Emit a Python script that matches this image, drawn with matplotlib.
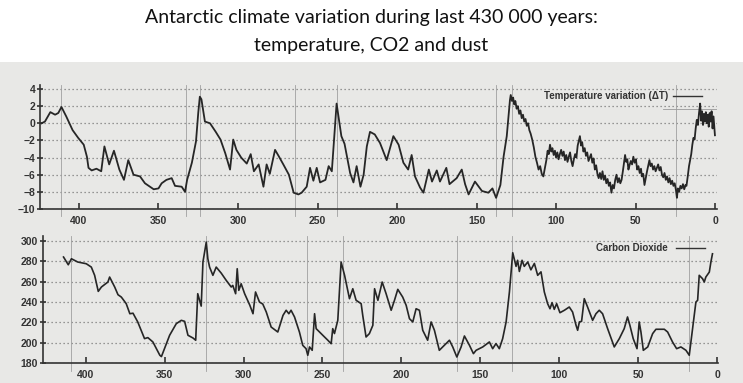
import matplotlib
matplotlib.use("Agg")
import matplotlib.pyplot as plt
from matplotlib.patches import Rectangle

# --- data (age in thousands of years before present) ---
temp_age = [
    423.5, 421.4, 418, 415, 413, 411, 408, 404, 400.5, 397, 395, 394, 392, 389,
    386, 384, 381, 378, 374.6, 371.7, 369, 365.7, 361.6, 358.5, 353, 350, 348,
    345, 341.7, 339.6, 335.4, 333.3, 332, 329, 326.4, 325, 324, 323, 320.8,
    317.6, 314, 311, 308, 305, 303, 301, 298, 294.5, 292, 290, 287, 284, 282,
    280, 276.7, 274.5, 271.5, 268, 265, 262, 260, 256.8, 254.7, 252.6, 250.5,
    248.4, 245, 243, 241, 238, 235, 233, 229.5, 227.4, 225.4, 223, 221, 219,
    217, 214, 210.7, 206.5, 202.3, 199, 196, 193, 190.8, 188.7, 185.5, 183.4,
    180, 178, 175, 173, 169, 167, 162.5, 159.3, 157.2, 155, 151, 146.6, 142.6,
    140, 137.7, 135, 133, 131, 129,
    128.5, 127.7, 127, 126.3, 125.6, 124.8, 124, 123.2, 122.4, 121.6, 120.8,
    120, 119.2, 118.4, 117.6, 116.8, 116, 115, 114, 113, 112, 111, 110, 109,
    108, 107, 106, 105.3, 104.6, 103.8, 103, 102.3, 101.5, 100.7, 100, 99.2,
    98.4, 97.6, 96.8, 96, 95.2, 94.4, 93.6, 92.8, 92, 91.2, 90.4, 89.6, 88.8,
    88, 87.2, 86.4, 85.6, 85, 84.3, 83.6, 82.8, 82, 81.2, 80.4, 79.6, 78.8,
    78, 77.2, 76.4, 75.6, 74.8, 74, 73.2, 72.4, 71.6, 70.8, 70, 69.2, 68.4,
    67.6, 66.8, 66, 65.2, 64.4, 63.6, 62.8, 62, 61.2, 60.4, 59.6, 58.8, 58,
    57.3, 56.6, 55.9, 55.2, 54.5, 53.8, 53, 52.2, 51.4, 50.6, 49.8, 49, 48.2,
    47.4, 46.6, 46, 45.2, 44.4, 43.6, 42.8, 42, 41.3, 40.6, 39.8, 39, 38.2,
    37.4, 36.6, 35.8, 35, 34.2, 33.4, 32.6, 31.8, 31, 30.2, 29.4, 28.6, 27.8,
    27, 26.2, 25.4, 24.6, 24, 23.4, 22.6, 21.8, 21, 20.2, 19.4, 18.6, 18,
    17.2, 16.4, 15.7, 15, 14.3, 13.6, 12.9, 12.2, 11.5, 10.8, 10.1, 9.4, 8.8,
    8.2, 7.6, 7, 6.4, 5.8, 5.2, 4.6, 4, 3.4, 2.8, 2.2, 1.6, 1, 0.5, 0.1,
]
temp_val = [
    0.0, 0.2, 1.3, 1.0, 1.2, 1.9, 0.8, -0.8, -1.7, -2.5, -3.9, -5.2, -5.5, -5.3,
    -5.6, -2.7, -4.8, -3.2, -5.4, -6.6, -4.3, -6.0, -6.2, -7.0, -7.7, -7.6, -7.0,
    -6.6, -6.4, -7.3, -7.4, -8.0, -6.6, -4.6, -2.1, 1.2, 3.1, 2.8, 0.2,
    0.0, -1.0, -1.9, -3.5, -5.4, -1.9, -3.1, -4.0, -4.7, -3.6, -5.6, -4.8, -7.4, -4.8,
    -5.9, -3.1, -3.8, -4.8, -6.0, -8.1, -8.3, -8.1, -7.4, -5.2, -6.7, -5.2,
    -6.9, -6.6, -5.0, -5.6, 2.3, -1.5, -2.4, -5.8, -6.9, -5.0, -7.4, -6.0, -2.7,
    -1.0, -1.3, -2.3, -4.3, -1.5, -2.5, -4.6, -5.4, -3.7, -6.2, -7.5, -8.1,
    -5.4, -6.8, -5.5, -6.8, -5.2, -7.1, -6.4, -5.4, -7.1, -8.3, -6.8, -7.9, -8.1,
    -7.6, -8.7, -7.2, -3.9, -1.5, 2.7,
    3.3, 2.6, 3.0, 2.2, 2.6, 1.7, 2.0, 1.1, 1.5, 0.6, 1.0,
    0.2, 0.5, -0.3, 0.0, -0.8, -1.2, -1.9, -2.8, -3.9, -4.6, -5.4, -5.0, -5.9,
    -6.2, -5.2, -4.2, -3.2, -3.6, -2.5, -3.3, -2.9, -3.7, -3.2, -4.0, -3.4,
    -4.2, -3.6, -3.1, -3.8, -3.3, -4.3, -3.7, -4.5, -3.9, -3.4, -4.4, -5.0, -4.2,
    -3.6, -4.0, -2.6, -2.0, -1.5, -2.6, -2.2, -3.3, -2.9, -3.8, -3.4, -4.4, -4.0,
    -3.6, -4.6, -4.1, -5.4, -4.9, -5.9, -6.4, -5.8, -6.5, -5.6, -6.6, -6.1, -7.0,
    -6.5, -7.3, -6.9, -8.1, -7.2, -7.6, -6.6, -6.0, -6.9, -6.4, -7.0, -6.6, -5.6,
    -4.6, -3.7, -4.5, -4.2, -5.4, -4.9, -4.4, -4.8, -3.9, -4.6, -4.2, -5.4, -5.0,
    -5.8, -5.3, -6.2, -5.9, -7.2, -6.4, -5.6, -4.9, -4.3, -5.0, -4.7, -5.4, -5.0,
    -5.6, -5.2, -4.8, -5.5, -5.1, -6.0, -6.3, -5.8, -6.6, -6.2, -6.9, -6.4, -7.1,
    -6.7, -7.3, -7.0, -7.8, -8.7, -7.6, -8.0, -7.3, -7.6, -7.1, -7.7, -7.2, -7.3,
    -6.2, -5.0, -4.3, -3.6, -2.5, -1.7, -1.9, -0.6, 0.4, -0.2, 1.2, 2.3, 0.3,
    1.4, -0.2, 1.1, 0.2, 1.3, 0.0, 1.0, -0.4, 1.2, 0.2, 1.4, -0.6, 0.8, -0.5, -1.4,
]

co2_age = [
    414, 411, 409, 405, 399.6, 396.4, 394.3, 392, 390, 385.9, 384.8, 381.6,
    379.5, 377.4, 374.3, 372, 370, 367, 362.7, 360.6, 357.4, 353, 352, 346.8,
    342.6, 339.4, 337.3, 335.2, 332, 330.3, 329, 326.8, 325.7, 323.6, 322.6,
    321.5, 319.4, 317.3, 314.1, 311, 307.8, 306.8, 305, 304, 303, 301.5, 299.3,
    296, 294, 292.4, 289.9, 287.8, 285.6, 282.5, 278.3, 275, 273, 271.3, 269.9,
    267.7, 264.6, 262.5, 260.4, 259.3, 258.2, 256.5, 255, 254, 251.9, 248.7,
    246.6, 244.5, 243.5, 242.4, 240.3, 238.2, 236, 232.9, 230.8, 228.7, 225.5,
    224.5, 222.4, 220.3, 218.1, 217, 214.9, 212.2, 209.7, 206.5, 204.4, 202.3,
    199.2, 197, 194.9, 192.8, 190.7, 188.6, 186.5, 183.4, 181.2, 179.1, 176,
    172.8, 169.6, 167.5, 164.9, 162.2, 160.1, 156.9, 154.4, 152.7, 148.5, 144.3,
    142.2, 140.1, 138, 135.9, 133.7, 131.6, 129.5, 127.4, 126.4, 125.3, 123.6,
    122.2, 120, 118, 115.8, 113.7, 111.6, 109.5, 107.4, 105.9, 104.6, 103.2,
    101.7, 99.6, 96.8, 93.7, 91.6, 89.4, 88.4, 87.3, 85.9, 84.2, 82.1, 78.9,
    76.8, 74.7, 72.6, 69.4, 65.2, 62, 58.9, 56.8, 55.3, 53.2, 50.8, 49.4, 48.3,
    46.8, 44, 40.9, 38.8, 33.5, 31.4, 28.3, 25.7, 23, 19.8, 17.7, 15.6, 13.5,
    12.4, 11.4, 9.3, 8.2, 7.2, 5, 4, 3,
]
co2_val = [
    284.3, 276.7, 282.6, 279.4, 277.7, 274.4, 266.3, 250.5, 254.8, 259.7, 264.6,
    254.8, 247.2, 244.9, 238.4, 228.5, 229, 220.4, 204, 205, 200.7, 187.6, 186.3,
    207.3, 218.7, 222, 221, 207.3, 204.6, 202.4, 248.2, 236, 279.4, 299, 282.6,
    274.4, 266.3, 274.4, 268.4, 261.4, 254.8, 256.4, 248.2, 272.8, 251.5, 258,
    248.2, 236.8, 228.5, 249.9, 240, 238, 230.2, 215.4, 210.5, 226.9, 231.9,
    228.5, 231.9, 225.3, 210.5, 197.4, 194.1, 187.6, 195.8, 192.5, 228.5, 213.8,
    210.5, 205.6, 202.4, 199, 213.8, 209, 222, 279.4, 266.3, 243.3, 253.1, 241.7,
    238.4, 226.9, 205.6, 208.9, 217.1, 253.1, 241.7, 259.7, 248.2, 231.9, 241.7,
    252.5, 244.9, 236.8, 223.6, 220.4, 233.4, 231.9, 212.2, 202.4, 220.4, 212.2,
    192.5, 197.4, 202.4, 195.8, 185.9, 195.8, 206.6, 197.4, 189.2, 192.5, 195.8,
    200.7, 194.1, 199.1, 194.1, 203.9, 220.4, 249.9, 288.5, 275.1, 281.1, 270.1,
    281.1, 275.1, 279.4, 271.7, 278, 266.3, 269.7, 249.9, 238.4, 233.4, 239.4,
    232.8, 238.4, 229.5, 231.9, 235.1, 230.2, 217.1, 212.2, 220.4, 221, 243.3,
    235.1, 222, 228.5, 231.9, 228.5, 213.8, 195.8, 204, 213.8, 225.3, 217.1, 204,
    194.1, 220.4, 210.5, 192.5, 195.8, 208.9, 213.2, 213.2, 210.5, 200.7, 194.1,
    195.8, 192.5, 187.6, 213.8, 240, 241.7, 266.3, 263, 259.7, 264.6, 269.5,
    279.4, 287.5,
]

# thin vertical guide lines drawn on the original chart
temp_marks = [411, 333, 324, 264, 238, 137.7, 127.7, 24.5]
co2_marks = [409, 323.6, 259.5, 237.3, 164.7, 129.7, 17.7]

x_ticks = [400, 350, 300, 250, 200, 150, 100, 50, 0]
temp_ticks = [4, 2, 0, -2, -4, -6, -8, -10]
co2_ticks = [300, 280, 260, 240, 220, 200, 180]

line_col = '#262626'
chart_font = 'Liberation Sans'

fig = plt.figure(figsize=(7.43, 3.83), dpi=100)
fig.patch.set_facecolor('white')
fig.patches.append(Rectangle((0, 0), 1, 1 - 62 / 383, transform=fig.transFigure,
                             facecolor='#e8e8e6', edgecolor='none', zorder=-10))

fig.text(0.5, 1 - 18 / 383, 'Antarctic climate variation during last 430 000 years:',
         ha='center', va='center', fontsize=14, family='Lato', color='#111111')
fig.text(0.5, 1 - 45 / 383, 'temperature, CO2 and dust',
         ha='center', va='center', fontsize=14, family='Lato', color='#111111')


def style_axes(ax, yticks):
    ax.set_facecolor('none')
    for s in ['top', 'right']:
        ax.spines[s].set_visible(False)
    for s in ['left', 'bottom']:
        ax.spines[s].set_color('#333333')
        ax.spines[s].set_linewidth(1.2)
    ax.set_xticks(x_ticks)
    ax.set_yticks(yticks)
    ax.tick_params(axis='x', direction='in', length=4, width=1.2, pad=5,
                   colors='#333333', labelsize=7.5)
    ax.tick_params(axis='y', direction='inout', length=5, width=1.2, pad=1,
                   colors='#333333', labelsize=7.5)
    for lab in ax.get_xticklabels() + ax.get_yticklabels():
        lab.set_family(chart_font)
        lab.set_fontweight('bold')
    ax.yaxis.grid(True, linestyle=(0, (1, 2.2)), color='#7a7a7a', linewidth=0.9)
    ax.set_axisbelow(True)


# temperature panel
ax1 = fig.add_axes([40 / 743, 1 - 209 / 383, 677 / 743, 124.3 / 383])
ax1.plot(temp_age, temp_val, color=line_col, lw=1.3, zorder=3)
for a in temp_marks:
    ax1.axvline(a, ymin=-0.06, ymax=1, color='#a0a0a0', lw=0.6, clip_on=False, zorder=2)
ax1.plot([33, -1], [1.7, 1.7], color='#9a9a9a', lw=0.6)
ax1.set_xlim(424.5, -1.2)
ax1.set_ylim(-10, 4.5)
style_axes(ax1, temp_ticks)
ax1.text(0.928, 0.909, 'Temperature variation (ΔT)', transform=ax1.transAxes,
         ha='right', va='center', fontsize=7, family=chart_font, fontweight='bold',
         color='#333333')
ax1.plot([0.935, 0.978], [0.909, 0.909], transform=ax1.transAxes,
         color='#333333', lw=1)

# CO2 panel
ax2 = fig.add_axes([43 / 743, 1 - 363 / 383, 675 / 743, 127 / 383])
ax2.plot(co2_age, co2_val, color=line_col, lw=1.2, zorder=3)
for a in co2_marks:
    ax2.axvline(a, ymin=-0.06, ymax=1, color='#a0a0a0', lw=0.6, clip_on=False, zorder=2)
ax2.set_xlim(427, -0.5)
ax2.set_ylim(180, 305)
style_axes(ax2, co2_ticks)
ax2.text(0.926, 0.906, 'Carbon Dioxide', transform=ax2.transAxes,
         ha='right', va='center', fontsize=7, family=chart_font, fontweight='bold',
         color='#333333')
ax2.plot([0.938, 0.981], [0.906, 0.906], transform=ax2.transAxes,
         color='#333333', lw=1)

fig.savefig('out.png', dpi=100)
